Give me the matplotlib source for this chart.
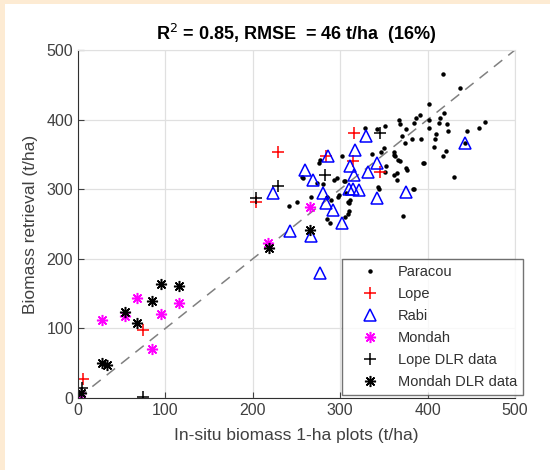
import matplotlib
matplotlib.use("Agg")
import matplotlib.pyplot as plt
from matplotlib.patches import Rectangle

plt.rcParams["font.family"] = ["Liberation Sans", "DejaVu Sans"]

# in-situ (x) vs retrieved (y) biomass, t/ha
paracou_x = [418, 437, 402, 466, 459, 445, 443, 419, 414, 413, 422, 402, 402, 391, 387,
             385, 367, 368, 351, 375, 371, 382, 392, 410, 423, 408, 374, 350, 361, 407,
             421, 418, 328, 342, 336, 361, 366, 375, 368, 351, 344, 383, 395, 365, 430,
             302, 293, 305, 280, 299, 311, 258, 267, 277, 309, 310, 305, 288, 372, 384,
             365, 376, 396, 276, 274, 296, 304, 307, 285, 309, 310, 298, 290, 241, 251,
             347, 363, 352, 361, 343, 256, 285]
paracou_y = [465, 446, 422, 396, 388, 383, 367, 409, 403, 395, 393, 399, 388, 407, 402,
             395, 400, 394, 391, 386, 376, 372, 372, 380, 383, 372, 366, 359, 349, 360,
             355, 348, 388, 387, 351, 354, 342, 330, 340, 325, 301, 301, 337, 313, 317,
             347, 313, 312, 308, 292, 284, 316, 289, 342, 282, 268, 260, 252, 261, 301,
             323, 328, 338, 337, 309, 316, 312, 294, 257, 265, 280, 289, 284, 276, 281,
             354, 347, 333, 320, 303, 318, 289]

lope_x = [204, 229, 316, 284, 315, 345, 74, 6]
lope_y = [282, 353, 381, 347, 340, 324, 98, 28]

rabi_x = [223, 260, 269, 280, 284, 292, 302, 267, 243, 277, 311, 316, 332, 342,
          310, 315, 322, 342, 375, 330, 317, 286, 443]
rabi_y = [295, 328, 313, 294, 280, 270, 251, 233, 240, 179, 333, 320, 324, 337,
          300, 300, 299, 287, 296, 376, 356, 347, 367]

mondah_x = [265, 217, 68, 115, 54, 27, 95, 85, 2]
mondah_y = [275, 223, 144, 136, 118, 112, 120, 70, 3]

lope_dlr_x = [204, 229, 283, 345, 5, 74]
lope_dlr_y = [287, 305, 320, 381, 14, 1]

mondah_dlr_x = [266, 218, 95, 115, 85, 54, 68, 27, 33, 3]
mondah_dlr_y = [241, 216, 164, 161, 140, 123, 108, 51, 48, 7]

one_to_one = [0, 500]
ticks = [0, 100, 200, 300, 400, 500]

fig = plt.figure(figsize=(5.5, 4.7), dpi=100, facecolor="white")
# thin peach border along the top and left edges
for x0, y0, w, h in [(0, 0, 5 / 550, 1), (0, 1 - 4 / 470, 1, 4 / 470)]:
    fig.patches.append(Rectangle((x0, y0), w, h, transform=fig.transFigure,
                                 facecolor="#fdebd3", edgecolor="none"))
ax = fig.add_axes([78 / 550, 1 - 398 / 470, 437 / 550, 348 / 470])

star = (8, 2, 0)
ax.plot(one_to_one, one_to_one, color="#808080", ls=(0, (7, 5)), lw=1.1, zorder=1)
ax.plot(paracou_x, paracou_y, ls="none", marker="o", ms=2.2, color="black", label="Paracou")
ax.plot(lope_x, lope_y, ls="none", marker="+", ms=9, mew=1.1, color="red", label="Lope")
ax.plot(rabi_x, rabi_y, ls="none", marker="^", ms=8.5, mew=1.1, mfc="none",
        color="#0000ff", label="Rabi")
ax.plot(mondah_x, mondah_y, ls="none", marker=star, ms=8, mew=1.1,
        color="#ff00ff", label="Mondah")
ax.plot(lope_dlr_x, lope_dlr_y, ls="none", marker="+", ms=9, mew=1.1, color="black",
        label="Lope DLR data")
ax.plot(mondah_dlr_x, mondah_dlr_y, ls="none", marker=star, ms=8, mew=1.1,
        color="black", label="Mondah DLR data")

ax.set_xlim(0, 500)
ax.set_ylim(0, 500)
ax.set_xticks(ticks)
ax.set_yticks(ticks)
ax.grid(True, color="#e0e0e0", lw=0.9)
ax.set_axisbelow(True)
ax.tick_params(direction="in", length=4, labelsize=11.5, colors="#404040",
               top=False, right=False)
for side in ("top", "right"):
    ax.spines[side].set_color("#e0e0e0")
for side in ("left", "bottom"):
    ax.spines[side].set_color("#303030")

ax.set_xlabel("In-situ biomass 1-ha plots (t/ha)", fontsize=12.5, color="#404040", labelpad=7)
ax.set_ylabel("Biomass retrieval (t/ha)", fontsize=12.5, color="#404040", labelpad=6)
ax.set_title("R$^2$ = 0.85, RMSE  = 46 t/ha  (16%)", fontsize=13, fontweight="bold",
             pad=7)

leg = ax.legend(loc="upper left", bbox_to_anchor=(0.604, 0.399), borderaxespad=0,
                fontsize=10.5, frameon=True, fancybox=False, edgecolor="#505050",
                borderpad=0.4, labelspacing=0.55, handlelength=3.1, handletextpad=0.35)
leg.get_frame().set_linewidth(1.0)
for t in leg.get_texts():
    t.set_color("#303030")

fig.savefig("out.png", dpi=100)
